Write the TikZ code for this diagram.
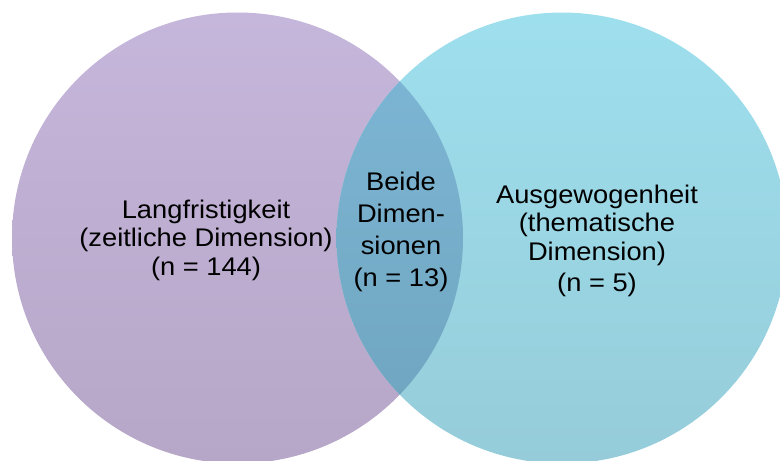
\documentclass[tikz,border=0pt]{standalone}
\usepackage{fontspec}
\setmainfont{Liberation Sans}[FakeStretch=1.07]
\begin{document}
\begin{tikzpicture}[x=1pt,y=-1pt,
  lbl/.style={align=center,inner sep=0pt,font=\fontsize{25.5}{28.5}\selectfont}]
\definecolor{purpTop}{RGB}{197,182,219}
\definecolor{purpBot}{RGB}{182,166,199}
\definecolor{cyanTop}{RGB}{158,223,238}
\definecolor{cyanBot}{RGB}{150,204,217}
\definecolor{lensTop}{RGB}{126,184,215}
\definecolor{lensBot}{RGB}{110,163,189}
\useasboundingbox (0,0) rectangle (780,461);
\begin{scope}
\clip (0,0) rectangle (780,461);
\shade[top color=purpTop,bottom color=purpBot] (237.5,238) circle[radius=225.5];
\shade[top color=cyanTop,bottom color=cyanBot] (562,238) circle[radius=225.5];
\begin{scope}
\clip (237.5,238) circle[radius=225.5];
\shade[top color=lensTop,bottom color=lensBot] (562,238) circle[radius=225.5];
\end{scope}
\end{scope}
\node[lbl] (left) at (206,240) {Langfristigkeit\\(zeitliche Dimension)\\(n = 144)};
\node[lbl,font=\fontsize{25.5}{32}\selectfont] (mid) at (401,232) {Beide\\Dimen-\\sionen\\(n = 13)};
\node[lbl] (right) at (597,241) {Ausgewogenheit\\(thematische\\Dimension)\\[3pt](n = 5)};
\end{tikzpicture}
\end{document}
